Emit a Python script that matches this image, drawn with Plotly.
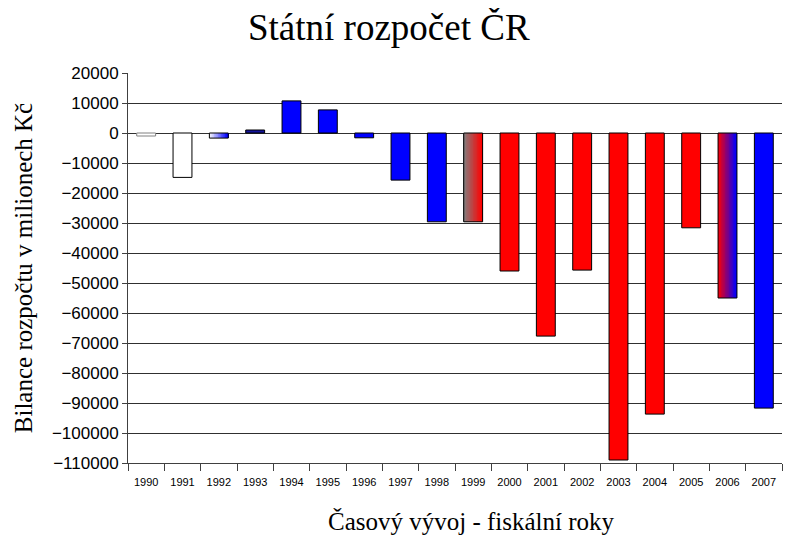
import plotly.graph_objects as go

years = [str(y) for y in range(1990, 2008)]
balance = [-1000, -14800, -1700, 1000, 10700, 7700, -1600, -15700, -29600,
           -29600, -46000, -67700, -45700, -109000, -93700, -31600, -55000, -91700]
solid_colors = ["#ffffff", "#ffffff", None, "#14149c", "#0000ff", "#0000ff", "#0000ff",
                "#0000ff", "#0000ff", None, "#ff0000", "#ff0000", "#ff0000",
                "#ff0000", "#ff0000", "#ff0000", None, "#0000ff"]
border_colors = ["#808080"] + ["#000000"] * 17
# gradient bars: year -> (left colour, right colour)
gradients = {"1992": ((255, 255, 255), (0, 0, 255)),
             "1999": ((128, 128, 128), (255, 0, 0)),
             "2006": ((255, 0, 0), (0, 0, 255))}

BAR_W = 0.52
N = 24

fig = go.Figure()

for yr, (c0, c1) in gradients.items():
    v = balance[years.index(yr)]
    cols, offs = [], []
    for i in range(N):
        t = i / (N - 1)
        c = tuple(round(c0[k] + (c1[k] - c0[k]) * t) for k in range(3))
        cols.append("rgb(%d,%d,%d)" % c)
        offs.append(-BAR_W / 2 + i * BAR_W / N)
    fig.add_trace(go.Bar(x=[yr] * N, y=[v] * N, width=[BAR_W / N * 1.05] * N,
                         offset=offs, marker=dict(color=cols, line=dict(width=0)),
                         showlegend=False, hoverinfo="skip"))

fig.add_trace(go.Bar(
    x=years, y=balance, width=BAR_W,
    marker=dict(color=[c if c else "rgba(0,0,0,0)" for c in solid_colors],
                line=dict(color=border_colors, width=1)),
    showlegend=False))

fig.add_annotation(text="Časový vývoj - fiskální roky", xref="paper", yref="paper",
                   x=0.525, y=-0.149, xanchor="center", yanchor="middle", showarrow=False,
                   font=dict(family="Liberation Serif", size=25, color="black"))

fig.update_layout(
    width=800, height=541,
    paper_bgcolor="white", plot_bgcolor="white",
    barmode="overlay",
    margin=dict(l=120, r=26, t=65, b=86),
    title=dict(text="Státní rozpočet ČR", x=0.476, xanchor="center", y=0.965, yanchor="middle",
               font=dict(family="Liberation Serif", size=37, color="black")),
    xaxis=dict(type="category", categoryorder="array", categoryarray=years,
               automargin=False, showline=True, linecolor="#404040", linewidth=1,
               ticks="outside", tickson="boundaries", ticklen=7, tickcolor="#404040",
               ticklabelstandoff=9,
               tickfont=dict(family="Liberation Sans", size=11, color="black"),
               showgrid=False),
    yaxis=dict(range=[-110000, 20000], dtick=10000, tickformat="d", automargin=False,
               showline=True, linecolor="#404040",
               linewidth=1, ticks="outside", ticklen=5, tickcolor="#404040",
               showgrid=True, gridcolor="#303030", gridwidth=1,
               zeroline=True, zerolinecolor="#303030", zerolinewidth=1,
               tickfont=dict(family="Liberation Sans", size=17, color="black"),
               title=dict(text="Bilance rozpočtu v milionech Kč", standoff=12,
                          font=dict(family="Liberation Serif", size=25, color="black"))),
)

fig.write_html("out.html")
